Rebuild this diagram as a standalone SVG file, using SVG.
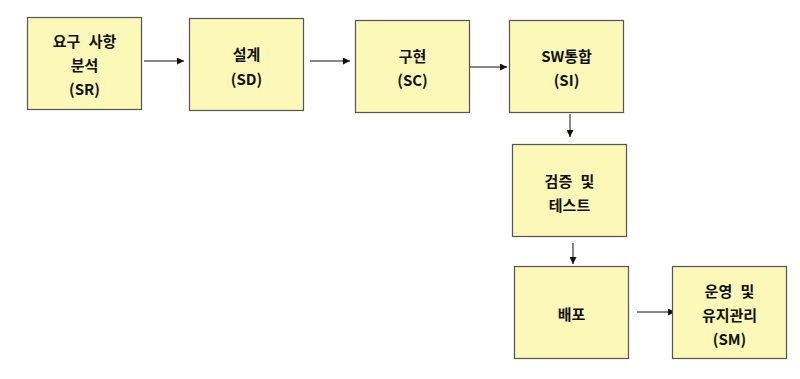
<svg xmlns="http://www.w3.org/2000/svg" width="800" height="379" viewBox="0 0 800 379">
  <style>
    .box { fill: #fbf8b8; stroke: #555555; stroke-width: 1.2; }
    .lbl { font-family: "Noto Sans CJK KR", "Noto Sans", sans-serif; font-size: 15px; font-weight: bold; fill: #111111; text-anchor: middle; dominant-baseline: central; word-spacing: 5px; }
    .conn { stroke: #111111; stroke-width: 1; fill: none; marker-end: url(#arrow); }
  </style>
  <defs>
    <marker id="arrow" viewBox="0 0 10 10" refX="10" refY="5" markerWidth="7" markerHeight="7" markerUnits="userSpaceOnUse" orient="auto">
      <path d="M0,0 L10,5 L0,10 z" fill="#111111"/>
    </marker>
  </defs>
  <rect width="800" height="379" fill="#ffffff"/>

  <g id="connectors">
    <line class="conn" x1="144" y1="61" x2="184" y2="61"/>
    <line class="conn" x1="310" y1="61" x2="350" y2="61"/>
    <line class="conn" x1="469" y1="67" x2="507" y2="67"/>
    <line class="conn" x1="570" y1="114" x2="570" y2="137"/>
    <line class="conn" x1="573" y1="243" x2="573" y2="264"/>
    <line class="conn" x1="637" y1="312" x2="675" y2="312"/>
  </g>

  <g id="node-sr">
    <rect class="box" x="27.5" y="17.5" width="114" height="92"/>
    <text class="lbl" x="84.5" y="40">요구 사항</text>
    <text class="lbl" x="84.5" y="64">분석</text>
    <text class="lbl" x="84.5" y="88">(SR)</text>
  </g>
  <g id="node-sd">
    <rect class="box" x="189.5" y="18.5" width="114" height="92"/>
    <text class="lbl" x="246.5" y="53">설계</text>
    <text class="lbl" x="246.5" y="78">(SD)</text>
  </g>
  <g id="node-sc">
    <rect class="box" x="355.5" y="20.5" width="114" height="92"/>
    <text class="lbl" x="412.5" y="55">구현</text>
    <text class="lbl" x="412.5" y="79">(SC)</text>
  </g>
  <g id="node-si">
    <rect class="box" x="509.5" y="20.5" width="114" height="92"/>
    <text class="lbl" x="566.5" y="55">SW통합</text>
    <text class="lbl" x="566.5" y="79">(SI)</text>
  </g>
  <g id="node-test">
    <rect class="box" x="512.5" y="144.5" width="114" height="92"/>
    <text class="lbl" x="569.5" y="180">검증 및</text>
    <text class="lbl" x="569.5" y="204">테스트</text>
  </g>
  <g id="node-deploy">
    <rect class="box" x="514.5" y="266.5" width="114" height="92"/>
    <text class="lbl" x="571.5" y="313">배포</text>
  </g>
  <g id="node-sm">
    <rect class="box" x="672.5" y="266.5" width="114" height="92"/>
    <text class="lbl" x="729.5" y="290">운영 및</text>
    <text class="lbl" x="729.5" y="314">유지관리</text>
    <text class="lbl" x="729.5" y="338">(SM)</text>
  </g>
</svg>
